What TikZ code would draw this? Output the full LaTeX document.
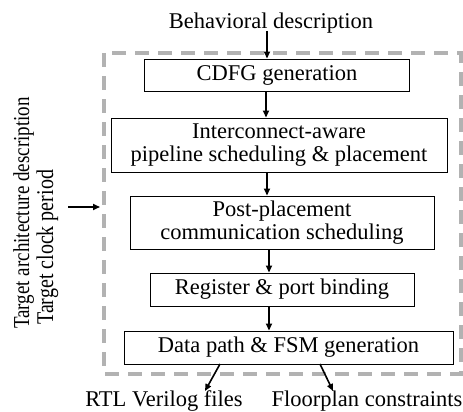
\documentclass[tikz,border=0pt]{standalone}
\usepackage{fontspec}
\setmainfont{Liberation Serif}
\usetikzlibrary{arrows.meta}
\begin{document}
\begin{tikzpicture}[x=1pt,y=-1pt,
  proc/.style={draw=black, line width=0.9pt, fill=white, inner sep=0pt, align=center, font=\fontsize{22.5}{23}\selectfont},
  lbl/.style={inner sep=0pt, font=\fontsize{22.5}{23}\selectfont},
  side/.style={inner sep=0pt, rotate=90, anchor=base west},
  flow/.style={-{Triangle[length=7pt,width=6pt]}, line width=1.6pt},
  frame/.style={draw={rgb,255:red,178;green,178;blue,178}, line width=3.2pt, dash pattern=on 14pt off 9pt}]
\useasboundingbox (0,0) rectangle (463,412);
\draw[frame] (104,53) rectangle (461,374);
\node[proc, minimum width=265pt, minimum height=32pt] (cdfg) at (277,75) {CDFG generation};
\node[proc, minimum width=336pt, minimum height=54pt] (ip) at (279,145) {Interconnect-aware\\pipeline scheduling \& placement};
\node[proc, minimum width=304pt, minimum height=53pt] (pp) at (282,222.5) {Post-placement\\communication scheduling};
\node[proc, minimum width=264pt, minimum height=33pt] (rb) at (282,289.5) {Register \& port binding};
\node[proc, minimum width=329pt, minimum height=33pt] (dp) at (288.5,347.5) {Data path \& FSM generation};
\node[lbl, anchor=base] (beh) at (271,29) {Behavioral description};
\node[lbl, anchor=base] (rtl) at (164,406) {RTL Verilog files};
\node[lbl, anchor=base] (fp) at (367,406) {Floorplan constraints};
\node[side] (tad) at (29,329) {\scalebox{1}[1.2]{\fontsize{19}{20}\selectfont Target architecture description}};
\node[side] (tcp) at (53,325) {\scalebox{1}[1.2]{\fontsize{20}{21}\selectfont Target clock period}};
\coordinate (behs) at (267,31);
\coordinate (l1) at (68,207);
\coordinate (l2) at (100,207);
\coordinate (o1) at (220,364);
\coordinate (o1e) at (205,391);
\coordinate (o2) at (320,364);
\coordinate (o2e) at (333,391);
\draw[flow] (behs) -- (behs |- cdfg.north);
\draw[flow] (cdfg.south -| 266,0) -- (ip.north -| 266,0);
\draw[flow] (ip.south -| 267,0) -- (pp.north -| 267,0);
\draw[flow] (pp.south -| 269,0) -- (rb.north -| 269,0);
\draw[flow] (rb.south -| 269,0) -- (dp.north -| 269,0);
\draw[flow] (l1) -- (l2);
\draw[flow] (o1) -- (o1e);
\draw[flow] (o2) -- (o2e);
\end{tikzpicture}
\end{document}
